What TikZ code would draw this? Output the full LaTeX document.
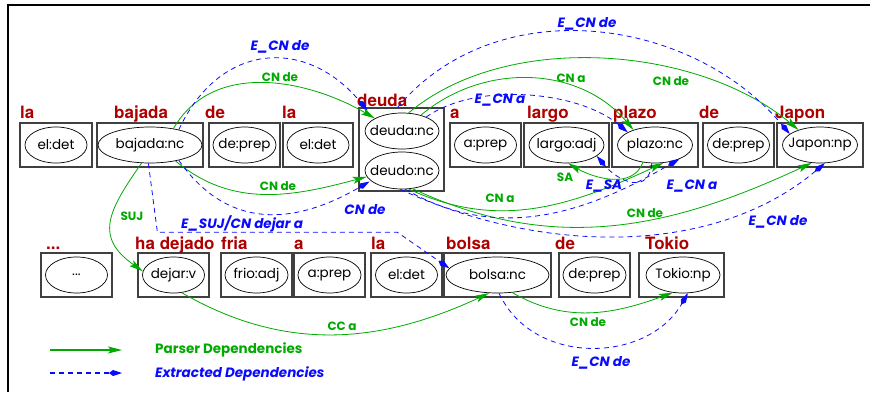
\documentclass[tikz,border=0pt]{standalone}
\usepackage{fontspec}
\usepackage{tikz}
\usetikzlibrary{shapes.geometric,arrows.meta}
\newfontfamily\gothic{Poppins}
\newfontfamily\helv{TeX Gyre Heros}
\definecolor{wordred}{RGB}{175,0,0}
\definecolor{parsegreen}{RGB}{0,170,0}
\definecolor{extblue}{RGB}{10,10,255}
\newcommand{\lem}[1]{\makebox[0pt]{#1}}

\begin{document}
\begin{tikzpicture}[x=1pt,y=1pt,
    wordbox/.style ={rectangle, draw=black!75, line width=1.1pt, minimum height=44pt, minimum width=71pt, inner sep=0pt},
    lemma/.style ={ellipse, draw, line width=0.7pt, inner sep=0pt, minimum width=62pt, minimum height=36pt,
      font=\gothic\fontsize{13.5}{13.5}\selectfont},
    form/.style ={anchor=base west, inner sep=0pt, text=wordred, font=\helv\bfseries\fontsize{17}{17}\selectfont},
    parser/.style ={parsegreen, line width=0.8pt, -{Stealth[length=14pt,width=7pt,inset=3pt]}},
    extracted/.style ={extblue, line width=0.8pt, dash pattern=on 5pt off 4pt, -{Kite[length=13pt,width=6pt,inset=4pt]}},
    plabel/.style ={text=parsegreen, inner sep=0pt, font=\gothic\bfseries\fontsize{12}{12}\selectfont},
    elabel/.style ={text=extblue, inner sep=0pt, font=\gothic\bfseries\itshape\fontsize{13.5}{13.5}\selectfont}]
   \useasboundingbox (0,0) rectangle (870,392);
   \draw[line width=2.5pt] (8,0) -- (8,387) -- (870,387);
   % first line of the sentence
   \node[wordbox, minimum width=72pt] (la) at (56,247) {};
   \node[wordbox, minimum width=106pt] (bajada) at (150,247) {};
   \node[wordbox] (de) at (244.5,247) {};
   \node[wordbox, minimum width=70pt] (la2) at (318,247) {};
   \node[wordbox, minimum width=85pt, minimum height=83pt] (deuda) at (401.5,242.5) {};
   \node[wordbox] (a) at (485.5,247) {};
   \node[wordbox, minimum width=85pt] (largo) at (566.5,247) {};
   \node[wordbox, minimum width=86pt] (plazo) at (655,247) {};
   \node[wordbox] (de2) at (738.5,247) {};
   \node[wordbox, minimum width=86pt] (japon) at (820,247) {};
   \node[lemma] (eldet) at (56,247) {\lem{el:det}};
   \node[lemma, minimum width=104pt] (bajadanc) at (150,247) {\lem{bajada:nc}};
   \node[lemma, minimum width=63pt] (deprep) at (244.5,247) {\lem{de:prep}};
   \node[lemma] (eldet2) at (318,247) {\lem{el:det}};
   \node[lemma, minimum width=74pt] (deudanc) at (402,261) {\lem{deuda:nc}};
   \node[lemma, minimum width=74pt, minimum height=37pt] (deudonc) at (402,221.5) {\lem{deudo:nc}};
   \node[lemma] (aprep) at (485.5,247) {\lem{a:prep}};
   \node[lemma, minimum width=75pt] (largoadj) at (566.5,247) {\lem{largo:adj}};
   \node[lemma, minimum width=75pt] (plazonc) at (655,247) {\lem{plazo:nc}};
   \node[lemma] (deprep2) at (738.5,247) {\lem{de:prep}};
   \node[lemma, minimum width=75pt] (japonnp) at (820,247) {\lem{Japon:np}};
   \node[form] (tla) at (20,274) {la};
   \node[form] (tbajada) at (114,274) {bajada};
   \node[form] (tde) at (205,274) {de};
   \node[form] (tla2) at (282,274) {la};
   \node[form] (tdeuda) at (357,286) {deuda};
   \node[form] (ta) at (450,274) {a};
   \node[form] (tlargo) at (527,274) {largo};
   \node[form] (tplazo) at (613,274) {plazo};
   \node[form] (tde2) at (699,274) {de};
   \node[form] (tjapon) at (775,274) {Japon};
   % second line of the sentence
   \node[wordbox] (dots) at (76.5,117) {};
   \node[wordbox] (hadejado) at (173.5,117) {};
   \node[wordbox] (fria) at (256.5,117) {};
   \node[wordbox] (a2) at (329.5,117) {};
   \node[wordbox] (la3) at (406.5,117) {};
   \node[wordbox, minimum width=107pt] (bolsa) at (497.5,117) {};
   \node[wordbox] (de3) at (594.5,117) {};
   \node[wordbox, minimum width=85pt] (tokio) at (681.5,117) {};
   \node[lemma] (dotsl) at (76.5,117) {\lem{...}};
   \node[lemma] (dejarv) at (173.5,117) {\lem{dejar:v}};
   \node[lemma, minimum width=63pt] (frioadj) at (256.5,117) {\lem{frio:adj}};
   \node[lemma, minimum width=63pt] (aprep2) at (329.5,117) {\lem{a:prep}};
   \node[lemma] (eldet3) at (406.5,117) {\lem{el:det}};
   \node[lemma, minimum width=103pt] (bolsanc) at (497.5,117) {\lem{bolsa:nc}};
   \node[lemma, minimum width=63pt] (deprep3) at (594.5,117) {\lem{de:prep}};
   \node[lemma, minimum width=74pt] (tokionp) at (683,117) {\lem{Tokio:np}};
   \node[form] (tdots) at (46,143) {...};
   \node[form] (thadejado) at (135,143) {ha dejado};
   \node[form] (tfria) at (221,143) {fria};
   \node[form] (ta2) at (294,143) {a};
   \node[form] (tla3) at (371,143) {la};
   \node[form] (tbolsa) at (446,143) {bolsa};
   \node[form] (tde3) at (555,143) {de};
   \node[form] (ttokio) at (645,143) {Tokio};
   % parser dependencies
   \draw[parser] (bajadanc.35) to[out=60,in=150] (deudanc.155);
   \draw[parser] (bajadanc.-32) to[out=-40,in=195] (deudonc.190);
   \draw[parser] (bajadanc.-115) to[out=-125,in=145,looseness=1.4] (dejarv.173);
   \draw[parser] (deudonc.-70) to[out=-25,in=205] (plazonc.-65);
   \draw[parser] (deudonc.-60) to[out=-25,in=205] (japonnp.-115);
   \draw[parser] (deudanc.40) to[out=40,in=130] (plazonc.145);
   \draw[parser] (deudanc.70) to[out=40,in=140,looseness=0.85] (japonnp.145);
   \draw[parser] (dejarv.-65) to[out=-30,in=205] (bolsanc.-115);
   \draw[parser] (bolsanc.-50) to[out=-30,in=200] (tokionp.-120);
   \draw[parser] (plazonc.-125) to[out=-110,in=-30] (largoadj.-85);
   \node[plabel] (l1) at (280,315) {CN de};
   \node[plabel] (l2) at (278,206) {CN de};
   \node[plabel] (l3) at (132,176) {SUJ};
   \node[plabel] (l4) at (500,194) {CN a};
   \node[plabel] (l5) at (645,179) {CN de};
   \node[plabel] (l6) at (571,314) {CN a};
   \node[plabel] (l7) at (671,311) {CN de};
   \node[plabel] (l8) at (342,66) {CC a};
   \node[plabel] (l9) at (588,70) {CN de};
   \node[plabel] (l10) at (565,215) {SA};
   % extracted dependencies
   \draw[extracted] (bajadanc.28) to[out=65,in=130,looseness=1.3] ([xshift=9pt,yshift=-3pt]deuda.north west);
   \draw[extracted] (bajadanc.-28) to[out=-55,in=210,looseness=1.15] ([xshift=11pt,yshift=10pt]deuda.south west);
   \draw[extracted] (bajadanc.-95) -- ++(9,-69) -- ++(240,0) -- (bolsanc.172);
   \draw[extracted] (deudanc.30) to[out=35,in=140,looseness=0.8] (plazonc.155);
   \draw[extracted] ([xshift=-4pt]deuda.north) to[out=50,in=130] (japonnp.160);
   \draw[extracted] (deudonc.-80) to[out=-30,in=210] (plazonc.-30);
   \draw[extracted] (deudonc.-95) to[out=-25,in=220,looseness=0.9] (japonnp.-75);
   \draw[extracted] (plazonc.-100) to[out=-95,in=-50,looseness=1.5] (largoadj.-20);
   \draw[extracted] (bolsanc.-85) to[out=-65,in=240,looseness=1.1] (tokionp.-75);
   \node[elabel] (m1) at (280,345) {E\_CN de};
   \node[elabel] (m2) at (365,182) {CN de};
   \node[elabel] (m3) at (242,168) {E\_SUJ/CN dejar a};
   \node[elabel] (m4) at (500,292) {E\_CN a};
   \node[elabel] (m5) at (587,368) {E\_CN de};
   \node[elabel] (m6) at (692,206) {E\_CN a};
   \node[elabel] (m7) at (778,170) {E\_CN de};
   \node[elabel] (m8) at (604,206) {E\_SA};
   \node[elabel] (m9) at (601,29) {E\_CN de};
   % legend
   \coordinate (gA) at (50,42);
   \coordinate (gB) at (122,42);
   \coordinate (bA) at (50,19);
   \coordinate (bB) at (122,19);
   \draw[parser, line width=1.2pt] (gA) -- (gB);
   \draw[extracted, line width=1.2pt] (bA) -- (bB);
   \node[plabel, anchor=west, font=\gothic\bfseries\fontsize{13.5}{13.5}\selectfont] (lparser) at (155,42) {Parser Dependencies};
   \node[elabel, anchor=west] (lextracted) at (155,18) {Extracted Dependencies};
 \end{tikzpicture}
\end{document}
